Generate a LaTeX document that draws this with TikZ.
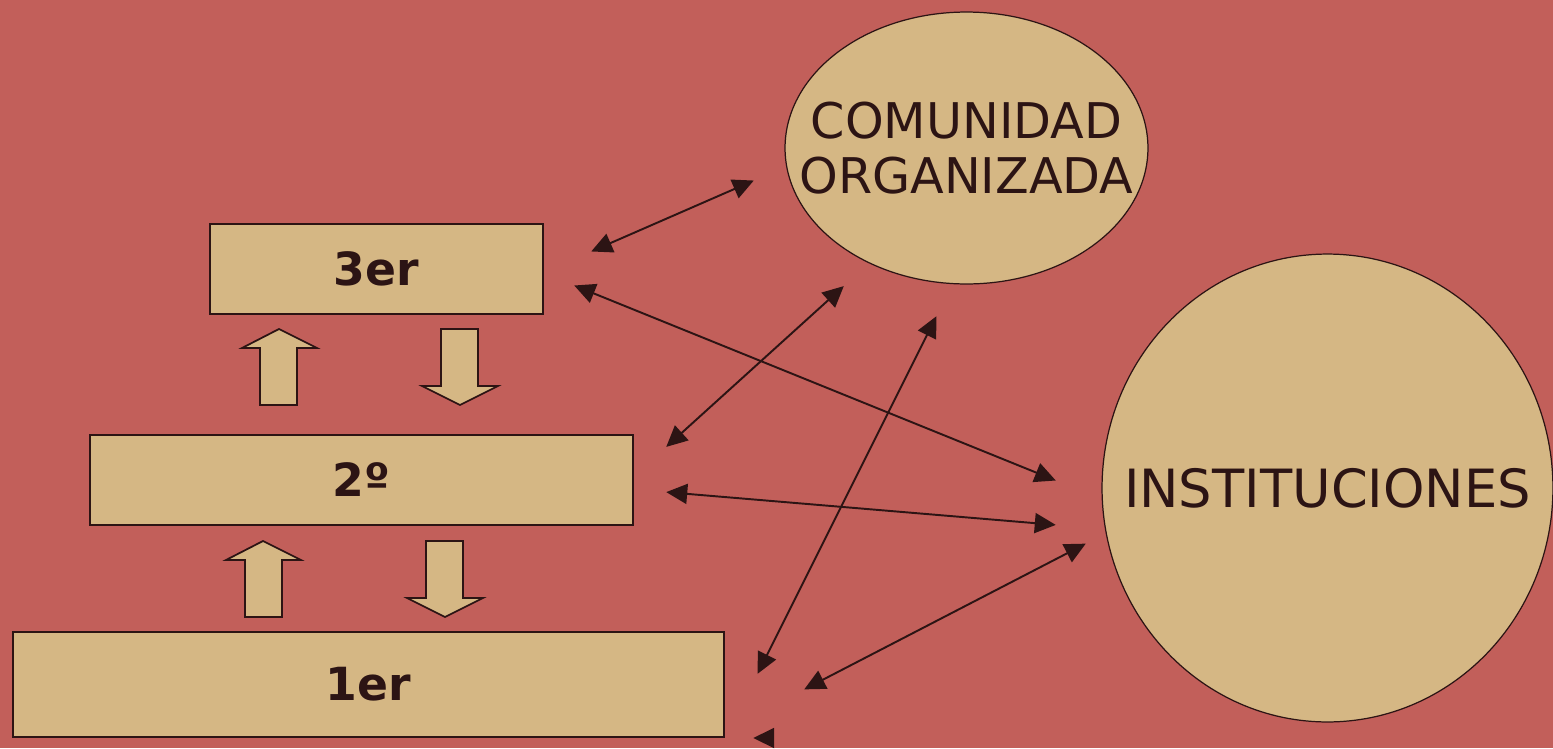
\documentclass[tikz,border=0pt]{standalone}
\usepackage{fontspec}
\setmainfont{DejaVu Sans}
\usetikzlibrary{arrows.meta,shapes.geometric}
\definecolor{bgred}{HTML}{C25F5A}
\definecolor{sand}{HTML}{D5B784}
\definecolor{dbrown}{HTML}{2C1414}
\pgfdeclarelayer{bglayer}
\pgfdeclarelayer{edgelayer}
\pgfdeclarelayer{nodelayer}
\pgfsetlayers{bglayer,edgelayer,nodelayer,main}
\tikzstyle{none}=[inner sep=0pt]
\tikzstyle{level}=[rectangle,fill=sand,draw=dbrown,line width=1pt,text=dbrown,font=\fontsize{26}{30}\selectfont\bfseries]
\tikzstyle{actor}=[ellipse,fill=sand,draw=dbrown,line width=0.7pt,inner sep=0pt]
\tikzstyle{actortext}=[text=dbrown,align=center,inner sep=0pt,font=\fontsize{28}{31}\selectfont]
\tikzstyle{blockarrow}=[fill=sand,draw=dbrown,line width=1pt,line join=miter]
\tikzstyle{link}=[{Triangle[length=0.42cm,width=0.4cm]}-{Triangle[length=0.42cm,width=0.4cm]},draw=dbrown,line width=1.1pt]
\tikzstyle{halflink}=[-{Triangle[length=0.42cm,width=0.4cm]},draw=dbrown,line width=1.1pt]

\begin{document}
\begin{tikzpicture}[x=0.02cm,y=-0.02cm]
	\useasboundingbox (0,0) rectangle (1553,748);
	\begin{pgfonlayer}{bglayer}
		\fill [bgred] (0,0) rectangle (1553,748);
	\end{pgfonlayer}
	\begin{pgfonlayer}{nodelayer}
		\node [style=level, minimum width=6.66cm, minimum height=1.8cm] (L3) at (376.5, 269) {3er};
		\node [style=level, minimum width=10.86cm, minimum height=1.8cm] (L2) at (361.5, 480) {2º};
		\node [style=level, minimum width=14.22cm, minimum height=2.1cm] (L1) at (368.5, 684.5) {1er};
		\node [style=actor, minimum width=7.26cm, minimum height=5.44cm] (C) at (966.5, 148) {};
		\node [style=actortext] (Ct) at (C.center) {COMUNIDAD\\ORGANIZADA};
		\node [style=actor, minimum width=9.02cm, minimum height=9.36cm] (I) at (1327.5, 488) {};
		\node [style=actortext, font=\fontsize{30}{33}\selectfont] (It) at (I.center) {INSTITUCIONES};
		\node [style=none] (l3a) at (590, 252) {};
		\node [style=none] (ca) at (755, 180) {};
		\node [style=none] (l3b) at (573, 285) {};
		\node [style=none] (ia) at (1057, 481) {};
		\node [style=none] (l2a) at (665, 448) {};
		\node [style=none] (cb) at (845, 285) {};
		\node [style=none] (l2b) at (665, 492) {};
		\node [style=none] (ib) at (1057, 525) {};
		\node [style=none] (l1a) at (757, 675) {};
		\node [style=none] (cc) at (937, 315) {};
		\node [style=none] (l1b) at (803, 690) {};
		\node [style=none] (ic) at (1087, 543) {};
		\node [style=none] (l1c) at (752, 738) {};
		\coordinate (off) at (773, 738);
	\end{pgfonlayer}
	\begin{pgfonlayer}{edgelayer}
		\draw [style=blockarrow] (260,405) -- (260,348) -- (242,348) -- (279,329) -- (317,348) -- (297,348) -- (297,405) -- cycle;
		\draw [style=blockarrow] (441,329) -- (478,329) -- (478,386) -- (498,386) -- (460,405) -- (422,386) -- (441,386) -- cycle;
		\draw [style=blockarrow] (245,617) -- (245,560) -- (226,560) -- (263,541) -- (301,560) -- (282,560) -- (282,617) -- cycle;
		\draw [style=blockarrow] (426,541) -- (463,541) -- (463,598) -- (483,598) -- (445,617) -- (407,598) -- (426,598) -- cycle;
		\draw [style=link] (l3a) to (ca);
		\draw [style=link] (l3b) to (ia);
		\draw [style=link] (l2a) to (cb);
		\draw [style=link] (l2b) to (ib);
		\draw [style=link] (l1a) to (cc);
		\draw [style=link] (l1b) to (ic);
		\draw [style=halflink] (off) to (l1c);
	\end{pgfonlayer}
\end{tikzpicture}
\end{document}
